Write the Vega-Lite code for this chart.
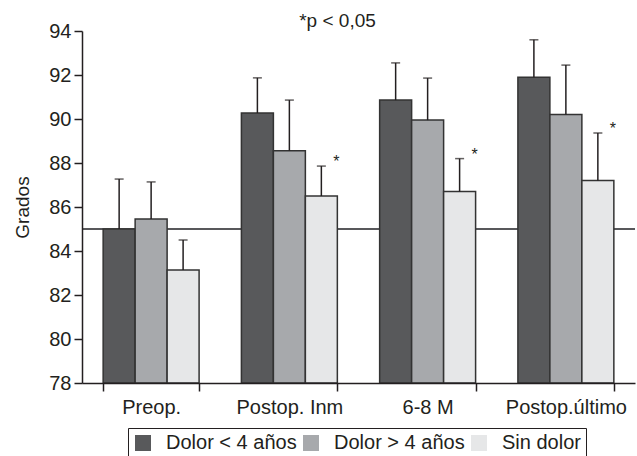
{
  "$schema": "https://vega.github.io/schema/vega-lite/v6.json",
  "width": 553,
  "height": 352,
  "autosize": "none",
  "padding": {"left": 82, "top": 31, "right": 2, "bottom": 73},
  "background": "white",
  "config": {
    "font": "Liberation Sans",
    "view": {"stroke": null},
    "axis": {"labelFont": "Liberation Sans", "titleFont": "Liberation Sans", "labelColor": "#231f20", "titleColor": "#231f20", "domainColor": "#231f20", "tickColor": "#231f20", "domainWidth": 1.5, "tickWidth": 1.5, "grid": false}
  },
  "title": {"text": "*p < 0,05", "fontSize": 19, "fontWeight": "normal", "font": "Liberation Sans", "color": "#231f20", "anchor": "middle", "dx": -21, "dy": 28, "baseline": "alphabetic", "offset": 3},
  "data": {"values": [
    {"cat": "Preop.", "grupo": "Dolor < 4 años", "valor": 85.0, "sup": 87.27, "sig": ""},
    {"cat": "Preop.", "grupo": "Dolor > 4 años", "valor": 85.45, "sup": 87.14, "sig": ""},
    {"cat": "Preop.", "grupo": "Sin dolor", "valor": 83.14, "sup": 84.5, "sig": ""},
    {"cat": "Postop. Inm", "grupo": "Dolor < 4 años", "valor": 90.27, "sup": 91.87, "sig": ""},
    {"cat": "Postop. Inm", "grupo": "Dolor > 4 años", "valor": 88.56, "sup": 90.86, "sig": ""},
    {"cat": "Postop. Inm", "grupo": "Sin dolor", "valor": 86.5, "sup": 87.86, "sig": "*"},
    {"cat": "6-8 M", "grupo": "Dolor < 4 años", "valor": 90.86, "sup": 92.55, "sig": ""},
    {"cat": "6-8 M", "grupo": "Dolor > 4 años", "valor": 89.95, "sup": 91.86, "sig": ""},
    {"cat": "6-8 M", "grupo": "Sin dolor", "valor": 86.7, "sup": 88.2, "sig": "*"},
    {"cat": "Postop.último", "grupo": "Dolor < 4 años", "valor": 91.9, "sup": 93.6, "sig": ""},
    {"cat": "Postop.último", "grupo": "Dolor > 4 años", "valor": 90.2, "sup": 92.45, "sig": ""},
    {"cat": "Postop.último", "grupo": "Sin dolor", "valor": 87.2, "sup": 89.36, "sig": "*"}
  ]},
  "encoding": {
    "x": {"field": "cat", "type": "nominal", "sort": null,
      "scale": {"paddingInner": 0.306, "paddingOuter": 0.153},
      "axis": {"title": null, "labelAngle": 0, "labelFontSize": 20, "tickBand": "extent", "tickSize": 8, "labelPadding": 6, "zindex": 1}},
    "xOffset": {"field": "grupo", "type": "nominal", "sort": null}
  },
  "layer": [
    {
      "mark": {"type": "rule", "color": "#58595b", "strokeWidth": 1.5},
      "encoding": {"x": null, "xOffset": null, "y": {"datum": 85}}
    },
    {
      "mark": {"type": "bar", "stroke": "#333333", "strokeWidth": 1.5},
      "encoding": {
        "y": {"field": "valor", "type": "quantitative",
          "scale": {"domain": [78, 94], "zero": false, "nice": false},
          "axis": {"title": "Grados", "titleFontSize": 19, "titleFontWeight": "normal", "labelFontSize": 20, "values": [78, 80, 82, 84, 86, 88, 90, 92, 94], "tickSize": 8, "labelPadding": 3, "titlePadding": 16, "zindex": 1}},
        "y2": {"datum": 78},
        "color": {"field": "grupo", "type": "nominal", "sort": null,
          "scale": {"domain": ["Dolor < 4 años", "Dolor > 4 años", "Sin dolor"], "range": ["#58595b", "#a7a9ac", "#e6e7e8"]},
          "legend": {"title": null, "orient": "none", "direction": "horizontal", "legendX": 46, "legendY": 397,
            "symbolType": "square", "symbolSize": 256, "symbolStrokeColor": "#231f20", "symbolStrokeWidth": 1, "symbolOpacity": 1,
            "labelFontSize": 20, "labelColor": "#231f20", "labelFont": "Liberation Sans", "labelOffset": 13, "columnPadding": 4,
            "strokeColor": "#231f20", "padding": 5,
            "encode": {"symbols": {"update": {"fill": {"signal": "datum.value === 'Dolor < 4 años' ? '#231f20' : (datum.value === 'Dolor > 4 años' ? '#a7a9ac' : '#e6e7e8')"}}}}}
        }
      }
    },
    {
      "mark": {"type": "rule", "color": "#231f20", "strokeWidth": 1.5},
      "encoding": {"y": {"field": "valor", "type": "quantitative"}, "y2": {"field": "sup"}}
    },
    {
      "mark": {"type": "tick", "color": "#231f20", "thickness": 1.5, "size": 9, "orient": "horizontal"},
      "encoding": {"y": {"field": "sup", "type": "quantitative"}}
    },
    {
      "transform": [{"filter": "datum.sig != ''"}],
      "mark": {"type": "text", "fontSize": 16, "dx": 15, "dy": 1, "baseline": "alphabetic", "color": "#231f20", "font": "Liberation Sans"},
      "encoding": {"y": {"field": "sup", "type": "quantitative"}, "text": {"field": "sig"}}
    }
  ]
}
